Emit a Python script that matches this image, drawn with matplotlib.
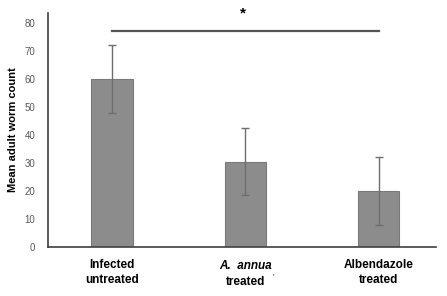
import matplotlib
matplotlib.use("Agg")
import matplotlib.pyplot as plt
import numpy as np

# Datos
groups = ["Infected\nuntreated", "", "Albendazole\ntreated"]
means = [60.0, 30.5, 20.0]
errors = [12.0, 12.0, 12.0]
sig_y = 77.0

plt.rcParams["font.family"] = ["Liberation Sans", "DejaVu Sans"]

fig = plt.figure(figsize=(4.47, 2.96), dpi=100, facecolor="white")
ax = fig.add_axes([48 / 447, 1 - 247 / 296, 388 / 447, 234 / 296])

x = np.arange(len(means))
ax.bar(x, means, width=0.31, color="#8c8c8c", edgecolor="#7a7a7a", lw=0.8,
       yerr=errors, error_kw=dict(ecolor="#6e6e6e", elinewidth=1.0,
                                  capsize=3, capthick=1.0))

ax.set_xlim(-0.48, 2.43)
ax.set_ylim(0, 83.6)
ax.set_yticks(range(0, 81, 10))
ax.tick_params(axis="y", length=0, labelsize=7, labelcolor="#595959", pad=9)
ax.tick_params(axis="x", length=0, pad=9)
ax.set_xticks(x)
ax.set_xticklabels(groups, fontsize=8.5, fontweight="bold", linespacing=1.25)

# etiqueta central con A. annua en cursiva
ax.text(1, -6.9, "A.  annua", fontsize=8.5, fontweight="bold", style="italic",
        ha="center", va="center", clip_on=False)
ax.text(1, -12.6, "treated", fontsize=8.5, fontweight="bold",
        ha="center", va="center", clip_on=False)
ax.text(1.21, -10.6, "'", fontsize=6, ha="center", va="center", clip_on=False)

for s in ("top", "right"):
    ax.spines[s].set_visible(False)
for s in ("left", "bottom"):
    ax.spines[s].set_color("#404040")
    ax.spines[s].set_linewidth(1.2)

ax.set_ylabel("Mean adult worm count", fontsize=8, fontweight="bold")
ax.yaxis.set_label_coords(-0.078, 0.5)

# linea de significancia
ax.plot([x[0], x[2]], [sig_y, sig_y], color="#555555", lw=1.6, clip_on=False)
ax.text(0.98, 83.4, "*", fontsize=11, fontweight="bold", ha="center",
        va="center", clip_on=False)

fig.savefig("out.png", dpi=100, facecolor="white")
